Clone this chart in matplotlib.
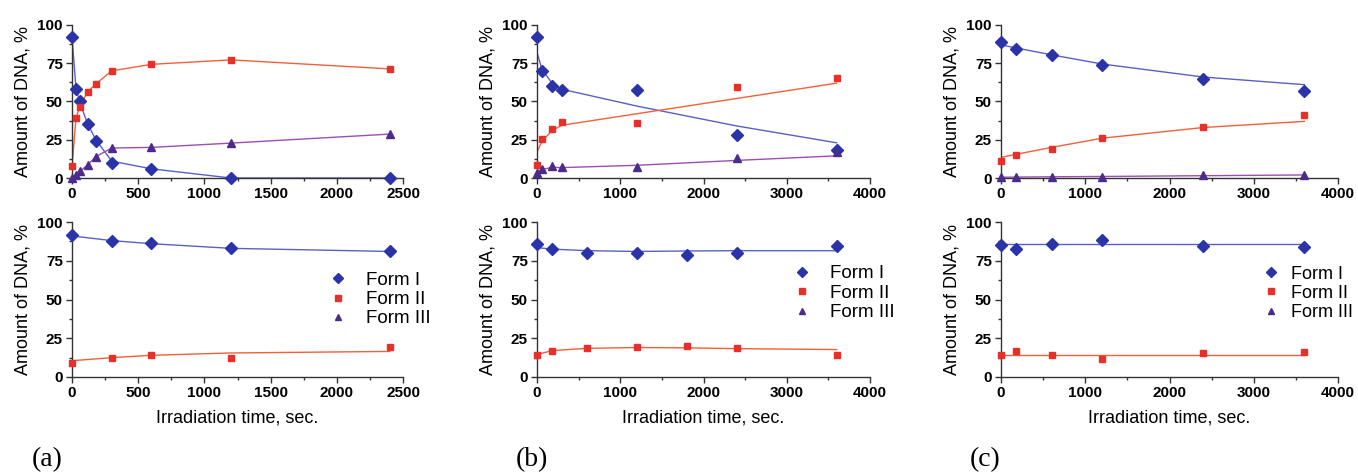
import matplotlib.pyplot as plt
import numpy as np
from matplotlib.lines import Line2D
from matplotlib.ticker import AutoMinorLocator

# ---- data ----
a_times = [0, 30, 60, 120, 180, 300, 600, 1200, 2400]
a_top_form1 = [92, 58, 50, 35, 24.5, 10, 6, 0, 0]
a_top_form2 = [7.6, 39, 46.5, 56.5, 61.5, 70, 74.3, 77.2, 71.3]
a_top_form3 = [0, 2, 4.3, 8.7, 14, 19.6, 20, 22.8, 28.7]
a_top_fit1 = [92, 59, 49, 35, 25, 11, 6, 0, 0]
a_top_fit2 = [7.6, 39, 47, 56.5, 61.5, 70, 74.3, 77.2, 71.3]
a_top_fit3 = [0, 2, 4.3, 8.7, 14, 19.6, 20, 22.8, 28.7]

a_bot_times = [0, 300, 600, 1200, 2400]
a_bot_form1 = [91.7, 87.8, 86.2, 83, 81.2]
a_bot_form2 = [9.2, 12.4, 14.2, 12.4, 19.2]
a_bot_fit1 = [91, 88, 86, 83, 81]
a_bot_fit2 = [10.5, 12.5, 14, 15.5, 16.5]

b_times = [0, 60, 180, 300, 1200, 2400, 3600]
b_top_form1 = [92, 70, 60.3, 57.3, 57.3, 28.2, 18.2]
b_top_form2 = [8.5, 25.2, 32, 36.3, 35.9, 59.4, 65.2]
b_top_form3 = [3, 5.8, 8.1, 7, 7.5, 12.8, 17]
b_top_fit1 = [82, 71, 62, 58, 47, 34, 23]
b_top_fit2 = [17, 24, 31, 34.5, 42, 52, 62]
b_top_fit3 = [3, 5.5, 7, 6.8, 8.3, 11.5, 14.5]

b_bot_times = [0, 180, 600, 1200, 1800, 2400, 3600]
b_bot_form1 = [85.5, 82.3, 80.1, 80.1, 79, 80.1, 84.8]
b_bot_form2 = [13.9, 16.7, 18.6, 19.2, 19.9, 18.6, 14.5]
b_bot_fit1 = [83.5, 82.5, 81.5, 81, 81.3, 81.5, 81.5]
b_bot_fit2 = [14.5, 17, 18.5, 19, 18.8, 18.3, 17.7]

c_times = [0, 180, 600, 1200, 2400, 3600]
c_top_form1 = [88.7, 84.4, 80.6, 73.7, 64.7, 57]
c_top_form2 = [11.3, 15, 19.2, 26.1, 33.5, 41]
c_top_form3 = [0.6, 0.6, 0.6, 0.6, 1.7, 2.1]
c_top_fit1 = [87, 85, 80.5, 74.5, 66, 61]
c_top_fit2 = [13.5, 15.5, 20, 26, 33, 37]
c_top_fit3 = [0.5, 0.6, 0.8, 1, 1.5, 2]

c_bot_form1 = [85.1, 82.6, 85.5, 88.3, 84.7, 84]
c_bot_form2 = [14.5, 17, 14.5, 11.7, 15.3, 16]
c_bot_fit1 = [85.5, 85.5, 85.5, 85.5, 85.5, 85.5]
c_bot_fit2 = [14.5, 14.5, 14.5, 14.5, 14.5, 14.5]

legend_labels = ['Form I', 'Form II', 'Form III']
panel_labels = ['(a)', '(b)', '(c)']
y_ticks = [0, 25, 50, 75, 100]

# ---- styles ----
plt.rcParams['font.family'] = ['Liberation Sans', 'DejaVu Sans']

marker_col = ['#2a33a8', '#e8302a', '#4b2c8c']
line_col = ['#5a5fc8', '#f0603a', '#9b4fb0']
markers = ['D', 's', '^']
msizes = [6.5, 5, 6]


def style_axis(ax, xmax, xstep, xlabel=None):
    ax.set_xlim(0, xmax)
    ax.set_ylim(0, 100)
    x_ticks = np.arange(0, xmax + 1, xstep)
    ax.set_xticks(x_ticks, [str(int(t)) for t in x_ticks],
                  fontweight='bold', fontsize=11)
    ax.set_yticks(y_ticks, [str(t) for t in y_ticks],
                  fontweight='bold', fontsize=11)
    ax.xaxis.set_minor_locator(AutoMinorLocator(2))
    ax.yaxis.set_minor_locator(AutoMinorLocator(2))
    for side in ['top', 'right']:
        ax.spines[side].set_visible(False)
    for side in ['left', 'bottom']:
        ax.spines[side].set_color('#333333')
        ax.spines[side].set_linewidth(1.0)
    ax.tick_params(which='major', direction='out', length=4, width=1,
                   color='#333333', pad=2.5)
    ax.tick_params(which='minor', direction='out', length=2, width=1,
                   color='#333333')
    ax.set_ylabel('Amount of DNA, %', fontsize=13, labelpad=4)
    if xlabel:
        ax.set_xlabel(xlabel, fontsize=13, labelpad=7)


def plot_panel(ax, times, points, fits):
    for i, (pts, fit) in enumerate(zip(points, fits)):
        if fit is not None:
            ax.plot(times, fit, color=line_col[i], lw=1.0, zorder=2)
        if pts is not None:
            ax.plot(times, pts, linestyle='none', marker=markers[i],
                    markersize=msizes[i], color=marker_col[i],
                    clip_on=False, zorder=3)


def add_legend(ax, x, y, textpad=0.9, size=13.5):
    handles = [Line2D([], [], linestyle='none', marker=markers[i],
                      markersize=msizes[i] * 0.75, color=marker_col[i])
               for i in range(3)]
    ax.legend(handles, legend_labels, loc='center left',
              bbox_to_anchor=(x, y), frameon=False, fontsize=size,
              handlelength=1.2, handletextpad=textpad, labelspacing=0.12,
              borderpad=0, borderaxespad=0)


fig = plt.figure(figsize=(13.58, 4.74), dpi=100)

W, H = 1358.0, 474.0
cols = [(72, 403), (537, 870), (1001, 1338)]
top_row = (25, 178)
bot_row = (222, 377)


def make_axes(col, row):
    x0, x1 = col
    y0, y1 = row
    return fig.add_axes([x0 / W, (H - y1) / H, (x1 - x0) / W, (y1 - y0) / H])


xlab = 'Irradiation time, sec.'

# (a)
ax = make_axes(cols[0], top_row)
plot_panel(ax, a_times, [a_top_form1, a_top_form2, a_top_form3],
           [a_top_fit1, a_top_fit2, a_top_fit3])
style_axis(ax, 2500, 500)

ax = make_axes(cols[0], bot_row)
plot_panel(ax, a_bot_times, [a_bot_form1, a_bot_form2, None],
           [a_bot_fit1, a_bot_fit2, None])
style_axis(ax, 2500, 500, xlab)
add_legend(ax, 0.77, 0.50)

# (b)
ax = make_axes(cols[1], top_row)
plot_panel(ax, b_times, [b_top_form1, b_top_form2, b_top_form3],
           [b_top_fit1, b_top_fit2, b_top_fit3])
style_axis(ax, 4000, 1000)

ax = make_axes(cols[1], bot_row)
plot_panel(ax, b_bot_times, [b_bot_form1, b_bot_form2, None],
           [b_bot_fit1, b_bot_fit2, None])
style_axis(ax, 4000, 1000, xlab)
add_legend(ax, 0.763, 0.54)

# (c)
ax = make_axes(cols[2], top_row)
plot_panel(ax, c_times, [c_top_form1, c_top_form2, c_top_form3],
           [c_top_fit1, c_top_fit2, c_top_fit3])
style_axis(ax, 4000, 1000)

ax = make_axes(cols[2], bot_row)
plot_panel(ax, c_times, [c_bot_form1, c_bot_form2, None],
           [c_bot_fit1, c_bot_fit2, None])
style_axis(ax, 4000, 1000, xlab)
add_legend(ax, 0.77, 0.54, textpad=0.5, size=13)

# panel letters
for lab, xpix in zip(panel_labels, [47, 532, 985]):
    fig.text(xpix / W, (H - 460) / H, lab, ha='center', va='center',
             fontsize=20, family=['Liberation Serif', 'DejaVu Serif'])

fig.savefig('out.png', dpi=100, facecolor='white')
